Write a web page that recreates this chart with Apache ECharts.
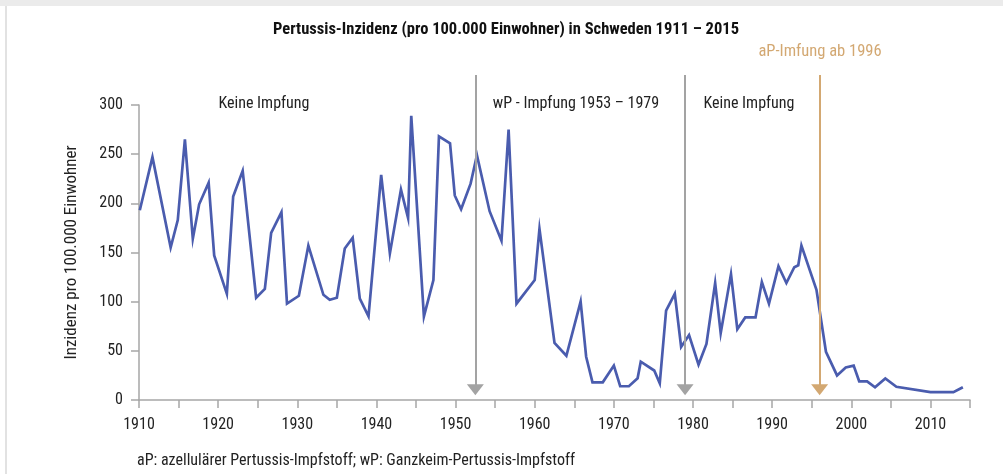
<!DOCTYPE html>
<html>
<head>
<meta charset="utf-8">
<script src="https://cdn.jsdelivr.net/npm/echarts@6/dist/echarts.min.js"></script>
<style>
html,body{margin:0;padding:0;background:#fff;}
#chart{width:1003px;height:474px;}
</style>
</head>
<body>
<div id="chart"></div>
<script>
// ---- data ----
const years = [1910.1, 1911.7, 1914.0, 1914.9, 1915.8, 1916.8, 1917.6, 1918.8, 1919.5, 1921.1,
  1921.9, 1923.1, 1924.8, 1925.9, 1926.7, 1928.0, 1928.7, 1930.2, 1931.4, 1933.3,
  1934.1, 1935.0, 1936.0, 1937.0, 1937.9, 1939.0, 1940.6, 1941.7, 1943.1, 1944.0,
  1944.4, 1946.0, 1947.2, 1947.9, 1949.3, 1949.9, 1950.7, 1951.9, 1952.7, 1954.3,
  1955.8, 1956.7, 1957.7, 1960.0, 1960.6, 1962.5, 1964.0, 1965.8, 1966.5, 1967.3,
  1968.6, 1970.0, 1970.8, 1971.9, 1973.0, 1973.4, 1975.1, 1975.8, 1976.6, 1977.7,
  1978.5, 1979.5, 1980.7, 1981.7, 1982.8, 1983.5, 1984.8, 1985.6, 1986.6, 1987.9,
  1988.7, 1989.6, 1990.8, 1991.8, 1992.8, 1993.3, 1993.7, 1995.6, 1996.8, 1998.2,
  1999.3, 2000.3, 2001.0, 2002.0, 2003.0, 2004.3, 2005.7, 2010.0, 2012.9, 2014.1];
const incidence = [193, 247, 155, 183, 265, 164, 199, 221, 147, 108,
  207, 233, 104, 113, 170, 191, 98, 106, 157, 107,
  102, 104, 154, 165, 103, 85, 229, 149, 214, 185,
  289, 85, 122, 268, 261, 208, 194, 220, 249, 192,
  162, 275, 98, 122, 174, 58, 45, 100, 44, 18,
  18, 35, 14, 14, 22, 39, 30, 17, 91, 108,
  54, 66, 36, 57, 119, 68, 128, 72, 84, 84,
  120, 98, 136, 119, 135, 137, 157, 112, 49, 25,
  33, 35, 19, 19, 13, 22, 13.5, 8, 8, 13];
const wpStart = 1952.5;
const wpEnd = 1979;
const apStart = 1996;
const yTicks = [0, 50, 100, 150, 200, 250, 300];
const titleText = 'Pertussis-Inzidenz (pro 100.000 Einwohner) in Schweden 1911 – 2015';
const yName = 'Inzidenz pro 100.000 Einwohner';
const footnote = 'aP: azellulärer Pertussis-Impfstoff; wP: Ganzkeim-Pertussis-Impfstoff';
const annKeine = 'Keine Impfung';
const annWp = 'wP - Impfung 1953 – 1979';
const annAp = 'aP-Imfung ab 1996';

const FONT = "'Liberation Sans Narrow', 'Roboto Condensed', 'DejaVu Sans Condensed', sans-serif";
const AXIS = '#a6a6a6';
const GRAY_ARROW = '#a3a3a3';
const TAN = '#d3a872';
const BLUE = '#4a5cae';

const chart = echarts.init(document.getElementById('chart'), null, {renderer: 'canvas'});
const points = years.map((y, i) => [y, incidence[i]]);

function arrow(x, color) {
  return [
    {coord: [x, 330], lineStyle: {color: color, width: 2, type: 'solid'}},
    {coord: [x, 10.5], symbol: 'triangle', symbolSize: [17, 11], itemStyle: {color: color}}
  ];
}

function txt(text, x, y, opts) {
  return {
    type: 'text', x: x, y: y, silent: true,
    style: Object.assign({
      text: text, fill: '#222', font: '16px ' + FONT,
      textAlign: 'center', align: 'center', textVerticalAlign: 'middle', verticalAlign: 'middle'
    }, opts || {})
  };
}

chart.setOption({
  animation: false,
  backgroundColor: '#fff',
  grid: [
    {left: 139, right: 33, top: 105, bottom: 74},
    {left: 139, right: 33, top: 75, bottom: 74}
  ],
  xAxis: [
    {
      type: 'value', gridIndex: 0, min: 1910, max: 2015, interval: 5,
      axisLine: {lineStyle: {color: AXIS, width: 1.5}},
      axisTick: {length: 8, lineStyle: {color: AXIS, width: 1.5}},
      splitLine: {show: false},
      axisLabel: {
        color: '#222', fontFamily: FONT, fontSize: 16, margin: 17,
        formatter: v => (v % 10 === 0 && v < 2015) ? String(v) : ''
      }
    },
    {type: 'value', gridIndex: 1, min: 1910, max: 2015, show: false}
  ],
  yAxis: [
    {
      type: 'value', gridIndex: 0, min: 0, max: 300, interval: 50,
      axisLine: {show: true, lineStyle: {color: AXIS, width: 1.5}},
      axisTick: {show: true, length: 8, lineStyle: {color: AXIS, width: 1.5}},
      splitLine: {show: false},
      axisLabel: {color: '#222', fontFamily: FONT, fontSize: 16, margin: 16,
        formatter: v => yTicks.includes(v) ? String(v) : ''},
      name: yName, nameLocation: 'middle', nameGap: 59, nameRotate: 90,
      nameTextStyle: {color: '#222', fontFamily: FONT, fontSize: 17}
    },
    {type: 'value', gridIndex: 1, min: 0, max: 330, show: false}
  ],
  series: [
    {
      type: 'line', xAxisIndex: 1, yAxisIndex: 1, data: [], silent: true,
      markLine: {
        silent: true, symbol: ['none', 'triangle'], symbolSize: 14,
        lineStyle: {type: 'solid'},
        label: {show: false}, animation: false,
        data: [arrow(wpStart, GRAY_ARROW), arrow(wpEnd, GRAY_ARROW), arrow(apStart, TAN)]
      }
    },
    {
      type: 'line', xAxisIndex: 0, yAxisIndex: 0, data: points,
      showSymbol: false, symbol: 'none', silent: true,
      lineStyle: {color: BLUE, width: 2.7, join: 'miter'}
    }
  ],
  graphic: [
    {type: 'rect', shape: {x: 0, y: 0, width: 1003, height: 6}, style: {fill: '#ebebeb'}, silent: true},
    {type: 'rect', shape: {x: 5, y: 6, width: 2, height: 468}, style: {fill: '#e2e2e2'}, silent: true},
    txt(titleText, 506, 30, {font: 'bold 16.5px ' + FONT, fill: '#111'}),
    txt(annAp, 820, 52, {fill: TAN, font: '16.5px ' + FONT}),
    txt(annKeine, 264, 104),
    txt(annWp, 576, 104),
    txt(annKeine, 749, 104),
    txt(footnote, 137, 461, {textAlign: 'left', align: 'left', font: '16px ' + FONT})
  ]
});
</script>
</body>
</html>
